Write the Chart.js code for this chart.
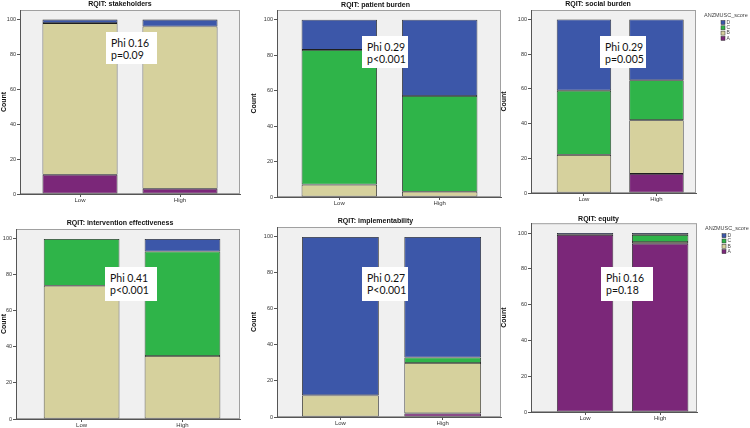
<!DOCTYPE html>
<html>
<head>
<meta charset="utf-8">
<script src="https://cdn.jsdelivr.net/npm/chart.js@4.4.1/dist/chart.umd.min.js"></script>
<style>
  html, body { margin: 0; padding: 0; background: #fff; width: 750px; height: 428px; overflow: hidden; }
  .panel { position: absolute; }
  .stat {
    position: absolute; background: #fff; box-sizing: border-box;
    font-family: Lato, "Open Sans", sans-serif; font-size: 10.5px; line-height: 12px;
    color: #111; padding: 5px 0 0 5px; white-space: nowrap;
  }
</style>
</head>
<body>
<script>
// chart values (percent within each RQIT group)
const categories = ['Low', 'High'];
const scoreLevels = ['A', 'B', 'C', 'D'];
const panelTitles = [
  'RQIT: stakeholders', 'RQIT: patient burden', 'RQIT: social burden',
  'RQIT: intervention effectiveness', 'RQIT: implementability', 'RQIT: equity'
];
const scoreA = [[11, 3], [0, 0], [0, 11], [0, 0], [0, 2], [99, 94]];
const scoreB = [[87, 93], [7, 3], [22, 31], [74, 35], [12, 28], [0, 1]];
const scoreC = [[0, 0], [76, 54], [37, 23], [26, 58], [0, 3], [0, 4]];
const scoreD = [[2, 4], [17, 43], [41, 35], [0, 7], [88, 67], [1, 1]];
const phiLabels = ['Phi 0.16', 'Phi 0.29', 'Phi 0.29', 'Phi 0.41', 'Phi 0.27', 'Phi 0.16'];
const pLabels = ['p=0.09', 'p<0.001', 'p=0.005', 'p<0.001', 'P<0.001', 'p=0.18'];
const yTicks = [0, 20, 40, 60, 80, 100];
const showLegend = [false, false, true, false, false, true];
const legendTitle = 'ANZMUSC_score';

const levelColors = { A: '#7b2779', B: '#d6d19d', C: '#2fb449', D: '#3c57a9' };

// page layout: canvas box, plot box (L,T,R,B), title centre, x range, note box
const layout = [
  { cl: 0,   ct: 0,   cw: 246, ch: 212, L: 20,  T: 10,  R: 240, B: 194, tc: 4.5, xr: [-0.6, 1.6],   note: [106, 32, 51, 32] },
  { cl: 250, ct: 0,   cw: 254, ch: 212, L: 277, T: 10,  R: 501, B: 197, tc: 5,   xr: [-0.62, 1.61], note: [362, 36, 46, 32] },
  { cl: 500, ct: 0,   cw: 288, ch: 212, L: 531, T: 10,  R: 696, B: 193, tc: 3.5, xr: [-0.73, 1.545], note: [600, 36, 46, 32] },
  { cl: 0,   ct: 214, cw: 246, ch: 224, L: 16,  T: 229, R: 240, B: 419, tc: 223, xr: [-0.65, 1.57], note: [105, 267, 52, 34] },
  { cl: 250, ct: 214, cw: 254, ch: 224, L: 277, T: 227, R: 501, B: 417, tc: 221, xr: [-0.62, 1.57], note: [362, 267, 46, 34] },
  { cl: 500, ct: 214, cw: 288, ch: 224, L: 531, T: 223, R: 697, B: 412, tc: 219, xr: [-0.72, 1.49], note: [601, 267, 52, 34] }
];
const Y_MAX = 105.5;

const plotBox = {
  id: 'plotBox',
  beforeDraw(chart) {
    const a = chart.chartArea, c = chart.ctx;
    c.save();
    c.fillStyle = '#f0f0f0';
    c.fillRect(a.left, a.top, a.right - a.left, a.bottom - a.top);
    c.strokeStyle = '#a0a0a0';
    c.lineWidth = 1;
    c.strokeRect(a.left + 0.5, a.top + 0.5, a.right - a.left - 1, a.bottom - a.top - 1);
    c.restore();
  }
};

// SPSS-like legend to the right of the plot box, built from the datasets
const sideLegend = {
  id: 'sideLegend',
  afterDraw(chart, args, opts) {
    if (!opts.show) return;
    const a = chart.chartArea, c = chart.ctx;
    const x0 = a.right + 8;
    c.save();
    c.font = '5.5px "Liberation Sans"';
    c.fillStyle = '#444';
    c.textBaseline = 'middle';
    c.fillText(opts.title, x0, a.top + 5.5);
    const ds = chart.data.datasets.slice().reverse();
    ds.forEach((d, k) => {
      const y = a.top + 10.5 + k * 5.3;
      c.fillStyle = d.backgroundColor;
      c.fillRect(x0 + 17, y, 4, 4);
      c.strokeStyle = '#333';
      c.lineWidth = 0.5;
      c.strokeRect(x0 + 17, y, 4, 4);
      c.fillStyle = '#444';
      c.font = '5px "Liberation Sans"';
      c.fillText(d.label, x0 + 22.5, y + 2);
    });
    c.restore();
  }
};

function makePanel(i) {
  const lay = layout[i];
  const div = document.createElement('div');
  div.className = 'panel';
  div.style.left = lay.cl + 'px';
  div.style.top = lay.ct + 'px';
  div.style.width = lay.cw + 'px';
  div.style.height = lay.ch + 'px';
  const canvas = document.createElement('canvas');
  div.appendChild(canvas);
  document.body.appendChild(div);

  const titleSize = 7;
  const padTop = Math.max(0, lay.tc - lay.ct - titleSize * 0.6);
  const padBottom = Math.max(0, lay.T - lay.ct - titleSize * 1.2 - padTop);

  const sources = [scoreA, scoreB, scoreC, scoreD];
  const datasets = scoreLevels.map((lv, k) => ({
    label: lv,
    data: sources[k][i].map((v, j) => ({ x: j, y: v })),
    backgroundColor: levelColors[lv],
    borderColor: '#1e1e1e',
    borderWidth: 0.8,
    borderSkipped: false,
    barPercentage: 0.75,
    categoryPercentage: 1
  }));

  new Chart(canvas, {
    type: 'bar',
    data: { datasets: datasets },
    options: {
      responsive: true,
      maintainAspectRatio: false,
      animation: false,
      layout: { padding: { top: 0, left: 0, bottom: 0, right: lay.cl + lay.cw - lay.R } },
      scales: {
        x: {
          type: 'linear',
          stacked: true,
          offset: false,
          min: lay.xr[0],
          max: lay.xr[1],
          afterBuildTicks(s) { s.ticks = categories.map((c, j) => ({ value: j })); },
          grid: { drawOnChartArea: false, drawTicks: true, tickLength: 3, color: '#555', offset: false },
          border: { display: true, color: '#555' },
          ticks: {
            font: { size: 6, family: 'Liberation Sans' }, color: '#333', padding: 0,
            callback: v => categories[v]
          },
          afterFit(s) { s.height = lay.ct + lay.ch - lay.B; }
        },
        y: {
          stacked: true,
          min: 0,
          max: Y_MAX,
          afterBuildTicks(s) { s.ticks = yTicks.map(v => ({ value: v })); },
          grid: { drawOnChartArea: false, drawTicks: true, tickLength: 3, color: '#555' },
          border: { display: true, color: '#555' },
          ticks: { font: { size: 5.5, family: 'Liberation Sans' }, color: '#333', padding: 1 },
          title: { display: true, text: 'Count', font: { size: 7, weight: 'bold', family: 'Liberation Sans' }, color: '#111', padding: 0 },
          afterFit(s) { s.width = lay.L - lay.cl; }
        }
      },
      plugins: {
        title: {
          display: true,
          text: panelTitles[i],
          font: { size: titleSize, weight: 'bold', family: 'Liberation Sans' },
          color: '#111',
          padding: { top: padTop, bottom: padBottom }
        },
        legend: { display: false },
        sideLegend: { show: showLegend[i], title: legendTitle },
        tooltip: { enabled: false }
      }
    },
    plugins: [plotBox, sideLegend]
  });

  const n = lay.note;
  const note = document.createElement('div');
  note.className = 'stat';
  note.style.left = n[0] + 'px';
  note.style.top = n[1] + 'px';
  note.style.width = n[2] + 'px';
  note.style.height = n[3] + 'px';
  note.innerHTML = phiLabels[i] + '<br>' + pLabels[i];
  document.body.appendChild(note);
}

for (let i = 0; i < panelTitles.length; i++) makePanel(i);
</script>
</body>
</html>
